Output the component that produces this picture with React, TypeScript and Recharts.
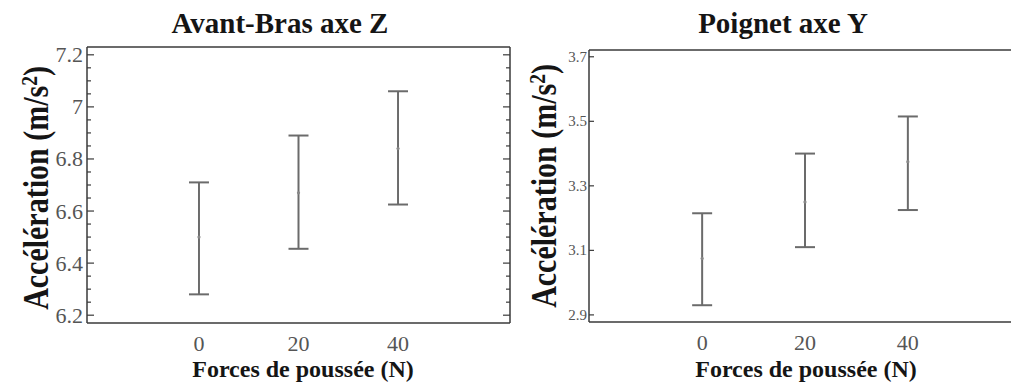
import { ComposedChart, XAxis, YAxis, Scatter, ErrorBar } from "recharts";

const forces = [0, 20, 40];

const avantBrasMean = [6.5, 6.67, 6.84];
const avantBrasLow = [6.28, 6.455, 6.625];
const avantBrasHigh = [6.71, 6.89, 7.06];

const poignetMean = [3.075, 3.25, 3.375];
const poignetLow = [2.93, 3.11, 3.225];
const poignetHigh = [3.215, 3.4, 3.515];

const forceTicks = [0, 20, 40];
const avantBrasTicks = [6.2, 6.4, 6.6, 6.8, 7, 7.2];
const avantBrasMinorTicks = [
  6.2, 6.25, 6.3, 6.35, 6.4, 6.45, 6.5, 6.55, 6.6, 6.65, 6.7, 6.75, 6.8, 6.85,
  6.9, 6.95, 7, 7.05, 7.1, 7.15, 7.2,
];
const poignetTicks = [2.9, 3.1, 3.3, 3.5, 3.7];

const serif = "'Liberation Serif', 'Times New Roman', serif";
const axisColor = "#3a3a3a";
const barColor = "#6b6b6b";
const tickColor = "#555";

const buildData = (mean: number[], low: number[], high: number[]) =>
  forces.map((f, i) => ({
    force: f,
    mean: mean[i],
    err: [mean[i] - low[i], high[i] - mean[i]],
  }));

const isMajor = (v: number, majors: number[]) =>
  majors.some((m) => Math.abs(m - v) < 1e-6);

// tick marks point inward, labels sit just left of the axis
const makeLeftTick =
  (majors: number[], fontSize: number, gap: number, majorLen: number, minorLen: number) =>
  (props: any) => {
    const { x, y, payload } = props;
    const major = isMajor(payload.value, majors);
    return (
      <g>
        <line
          x1={x}
          x2={x + (major ? majorLen : minorLen)}
          y1={y}
          y2={y}
          stroke={axisColor}
          strokeWidth={1.2}
        />
        {major && (
          <text
            x={x - gap}
            y={y}
            textAnchor="end"
            dominantBaseline="central"
            fontFamily={serif}
            fontSize={fontSize}
            fill={tickColor}
          >
            {String(payload.value)}
          </text>
        )}
      </g>
    );
  };

const makeRightTick =
  (majors: number[], majorLen: number, minorLen: number) => (props: any) => {
    const { x, y, payload } = props;
    const major = isMajor(payload.value, majors);
    return (
      <line
        x1={x}
        x2={x - (major ? majorLen : minorLen)}
        y1={y}
        y2={y}
        stroke={axisColor}
        strokeWidth={1.2}
      />
    );
  };

const MeanDot = (props: any) => (
  <circle cx={props.cx} cy={props.cy} r={1.6} fill="#888" />
);

type PanelProps = {
  left: number;
  width: number;
  margin: { top: number; right: number; bottom: number; left: number };
  xDomain: [number, number];
  yDomain: [number, number];
  data: { force: number; mean: number; err: number[] }[];
  ticks: number[];
  allTicks: number[];
  tickFont: number;
  tickGap: number;
  majorLen: number;
  minorLen: number;
};

// margin is the plot box itself; the 1px axes are taken off it
const Panel = ({
  left,
  width,
  margin,
  xDomain,
  yDomain,
  data,
  ticks,
  allTicks,
  tickFont,
  tickGap,
  majorLen,
  minorLen,
}: PanelProps) => (
  <div style={{ position: "absolute", left, top: 0, width, height: 383 }}>
    <ComposedChart
      width={width}
      height={383}
      margin={{
        top: margin.top - 1,
        right: margin.right - 1,
        bottom: margin.bottom - 1,
        left: margin.left - 1,
      }}
      data={data}
    >
      <XAxis
        xAxisId="b"
        type="number"
        dataKey="force"
        domain={xDomain}
        ticks={forceTicks}
        interval={0}
        allowDataOverflow
        height={1}
        tickLine={false}
        tickSize={0}
        tickMargin={12}
        axisLine={{ stroke: axisColor, strokeWidth: 1.5 }}
        tick={{ fontFamily: serif, fontSize: 22, fill: tickColor }}
      />
      <XAxis
        xAxisId="t"
        orientation="top"
        type="number"
        domain={xDomain}
        allowDataOverflow
        height={1}
        tick={false}
        tickLine={false}
        axisLine={{ stroke: axisColor, strokeWidth: 1.5 }}
      />
      <YAxis
        yAxisId="l"
        type="number"
        dataKey="mean"
        domain={yDomain}
        ticks={allTicks}
        interval={0}
        allowDataOverflow
        width={1}
        tickLine={false}
        tickSize={0}
        tickMargin={0}
        axisLine={{ stroke: axisColor, strokeWidth: 1.5 }}
        tick={makeLeftTick(ticks, tickFont, tickGap, majorLen, minorLen)}
      />
      <YAxis
        yAxisId="r"
        orientation="right"
        type="number"
        domain={yDomain}
        ticks={allTicks}
        interval={0}
        allowDataOverflow
        width={1}
        tickLine={false}
        tickSize={0}
        tickMargin={0}
        axisLine={{ stroke: axisColor, strokeWidth: 1.5 }}
        tick={makeRightTick(ticks, majorLen, minorLen)}
      />
      <Scatter
        xAxisId="b"
        yAxisId="l"
        dataKey="mean"
        shape={MeanDot}
        isAnimationActive={false}
      >
        <ErrorBar
          dataKey="err"
          direction="y"
          width={10}
          stroke={barColor}
          strokeWidth={2}
          isAnimationActive={false}
        />
      </Scatter>
    </ComposedChart>
  </div>
);

const Sup = () => (
  <>
    <tspan dy="-0.45em" fontSize="0.65em">
      2
    </tspan>
    <tspan dy="0.3em">)</tspan>
  </>
);

export default function App() {
  return (
    <div
      style={{
        position: "absolute",
        left: 0,
        top: 0,
        width: 1011,
        height: 383,
        overflow: "hidden",
        background: "#fff",
      }}
    >
      <Panel
        left={0}
        width={520}
        margin={{ top: 47, right: 10, bottom: 60, left: 87 }}
        xDomain={[-22.5, 62.5]}
        yDomain={[6.17, 7.23]}
        data={buildData(avantBrasMean, avantBrasLow, avantBrasHigh)}
        ticks={avantBrasTicks}
        allTicks={avantBrasMinorTicks}
        tickFont={22}
        tickGap={4}
        majorLen={7}
        minorLen={4}
      />
      <Panel
        left={520}
        width={520}
        margin={{ top: 50, right: 19, bottom: 61, left: 69 }}
        xDomain={[-22, 62]}
        yDomain={[2.878, 3.721]}
        data={buildData(poignetMean, poignetLow, poignetHigh)}
        ticks={poignetTicks}
        allTicks={poignetTicks}
        tickFont={15}
        tickGap={2}
        majorLen={5}
        minorLen={5}
      />
      <svg
        width={1011}
        height={383}
        style={{ position: "absolute", left: 0, top: 0, pointerEvents: "none" }}
        fontFamily={serif}
        fontWeight="bold"
        fill="#151515"
      >
        <text x={280} y={33} textAnchor="middle" fontSize={29}>
          Avant-Bras axe Z
        </text>
        <text x={783} y={33} textAnchor="middle" fontSize={29}>
          Poignet axe Y
        </text>
        <text x={303} y={377} textAnchor="middle" fontSize={24}>
          Forces de poussée (N)
        </text>
        <text x={806} y={377} textAnchor="middle" fontSize={24}>
          Forces de poussée (N)
        </text>
        <text
          transform="translate(48, 188) rotate(-90) scale(1, 1.2)"
          textAnchor="middle"
          fontSize={30}
        >
          Accélération (m/s<Sup />
        </text>
        <text
          transform="translate(556, 186) rotate(-90) scale(1, 1.2)"
          textAnchor="middle"
          fontSize={30}
        >
          Accélération (m/s<Sup />
        </text>
      </svg>
    </div>
  );
}
